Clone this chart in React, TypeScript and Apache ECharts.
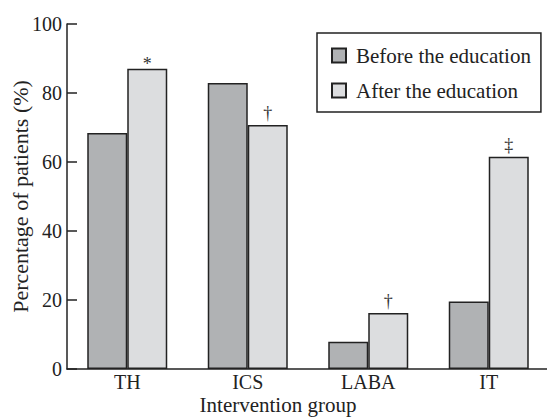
import React, { useEffect, useRef } from "react";
import * as echarts from "echarts";

const categories = ["TH", "ICS", "LABA", "IT"];
const beforeValues = [68.4, 82.9, 7.9, 19.6];
const afterValues = [87.0, 70.7, 16.2, 61.5];
const markers = ["*", "†", "†", "‡"];
const seriesNames = ["Before the education", "After the education"];
const yTicks = { min: 0, max: 100, interval: 20 };

const FONT = "Liberation Serif";

export default function App() {
  const ref = useRef<HTMLDivElement>(null);
  useEffect(() => {
    if (!ref.current) return;
    const chart = echarts.init(ref.current, null, { renderer: "svg" });
    chart.setOption({
      animation: false,
      textStyle: { fontFamily: FONT, color: "#222" },
      grid: { left: 67, right: -2, top: 24, bottom: 48, outerBoundsMode: "none", containLabel: false },
      legend: {
        orient: "vertical",
        left: 317,
        top: 33,
        padding: [12, 10, 11, 14],
        borderColor: "#222",
        borderWidth: 1.5,
        itemWidth: 14,
        itemHeight: 14,
        itemGap: 14,
        icon: "rect",
        textStyle: { fontFamily: FONT, fontSize: 21, color: "#222", lineHeight: 20, padding: [0, 0, 0, 5] },
        data: seriesNames,
      },
      xAxis: {
        type: "category",
        data: categories,
        name: "Intervention group",
        nameLocation: "middle",
        nameGap: 25,
        nameMoveOverlap: false,
        nameTextStyle: { fontFamily: FONT, fontSize: 21, color: "#222", lineHeight: 21, padding: [0, 60, 0, 0] },
        axisLine: { lineStyle: { color: "#222", width: 1.5 } },
        axisTick: { inside: true, length: 10, lineStyle: { color: "#222", width: 1.5 } },
        axisLabel: { fontFamily: FONT, fontSize: 20, color: "#222", margin: 3, lineHeight: 20 },
      },
      yAxis: {
        type: "value",
        min: yTicks.min,
        max: yTicks.max,
        interval: yTicks.interval,
        name: "Percentage of patients (%)",
        nameLocation: "middle",
        nameGap: 36,
        nameMoveOverlap: false,
        nameTextStyle: { fontFamily: FONT, fontSize: 22, color: "#222" },
        axisLine: { show: true, lineStyle: { color: "#222", width: 1.5 } },
        axisTick: { show: true, inside: true, length: 10, lineStyle: { color: "#222", width: 1.5 } },
        axisLabel: { fontFamily: FONT, fontSize: 20, color: "#222", margin: 5 },
        splitLine: { show: false },
      },
      series: [
        {
          name: seriesNames[0],
          type: "bar",
          data: beforeValues,
          barWidth: 40,
          barGap: "0%",
          itemStyle: { color: "#b0b2b4", borderColor: "#222", borderWidth: 1.5 },
        },
        {
          name: seriesNames[1],
          type: "bar",
          data: afterValues.map((v, i) => ({
            value: v,
            label: { distance: markers[i] === "*" ? -4 : 3 },
          })),
          barWidth: 40,
          barGap: "0%",
          itemStyle: { color: "#dcdddf", borderColor: "#222", borderWidth: 1.5 },
          label: {
            show: true,
            position: "top",
            fontFamily: FONT,
            fontSize: 18,
            color: "#333333",
            formatter: (p: any) => markers[p.dataIndex],
          },
        },
      ],
    });
    return () => chart.dispose();
  }, []);
  return (
    <div
      ref={ref}
      style={{ position: "absolute", left: 0, top: 0, width: 547, height: 417 }}
    />
  );
}
